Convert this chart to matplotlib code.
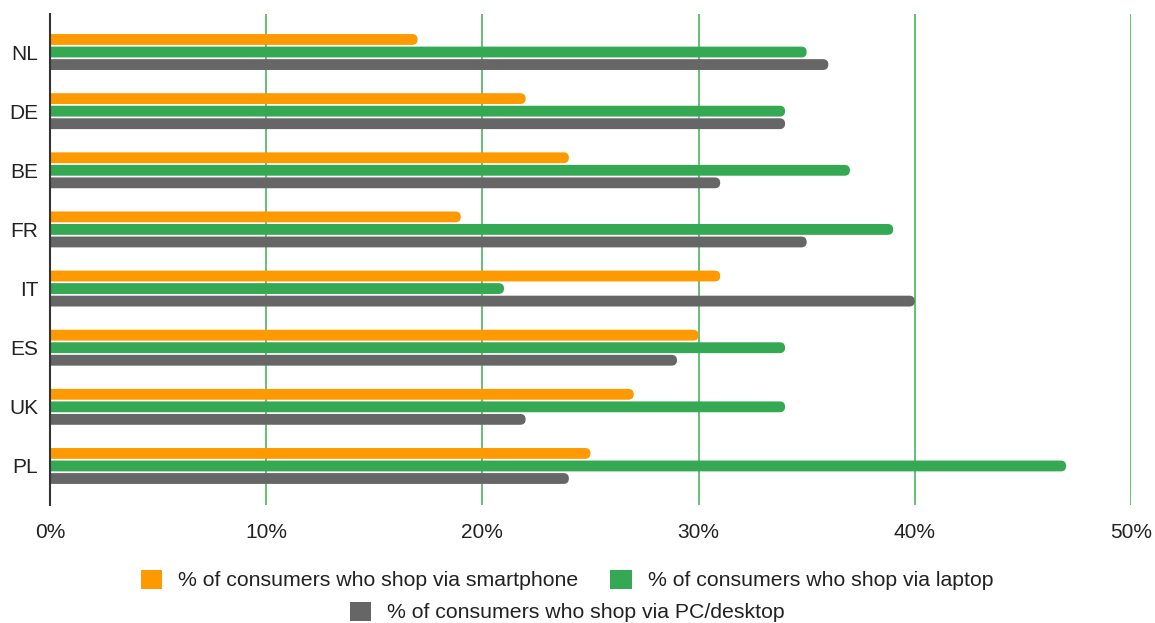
import matplotlib
matplotlib.use("Agg")
import matplotlib.pyplot as plt
from matplotlib.patches import FancyBboxPatch, Patch
from matplotlib.ticker import FuncFormatter

plt.rcParams["font.family"] = ["Liberation Sans", "DejaVu Sans"]

# Share of online shoppers per device, by country (%)
paises = ["NL", "DE", "BE", "FR", "IT", "ES", "UK", "PL"]
smartphone = [17, 22, 24, 19, 31, 30, 27, 25]
laptop = [35, 34, 37, 39, 21, 34, 34, 47]
desktop = [36, 34, 31, 35, 40, 29, 22, 24]

series = [
    ("% of consumers who shop via smartphone", smartphone, "#ff9900"),
    ("% of consumers who shop via laptop", laptop, "#34a853"),
    ("% of consumers who shop via PC/desktop", desktop, "#666666"),
]

W, H = 1155, 623
fig = plt.figure(figsize=(W / 100, H / 100), dpi=100)
left, right, top, bottom = 50, 1131, 14, 505
ax = fig.add_axes([left / W, 1 - bottom / H, (right - left) / W, (bottom - top) / H])

xmax = 50
ymin, ymax = -0.643, 7.66
ax.set_xlim(0, xmax)
ax.set_ylim(ymax, ymin)

# pixel scale of each axis, used to keep the bar ends round
px_x = (right - left) / xmax
px_y = (bottom - top) / (ymax - ymin)
raio_px = 5.4
r = raio_px / px_x
aspecto = px_x / px_y

altura = 0.183
passo = 0.212
for k, (nome, valores, cor) in enumerate(series):
    desloc = (k - 1) * passo
    for i, v in enumerate(valores):
        y = i + desloc
        barra = FancyBboxPatch((-r, y - altura / 2), v + r, altura,
                               boxstyle=f"round,pad=0,rounding_size={r}",
                               mutation_aspect=aspecto, facecolor=cor,
                               edgecolor="none", zorder=2)
        ax.add_patch(barra)

ax.set_yticks(range(len(paises)))
ax.set_yticklabels(paises)
ax.set_xticks(range(0, xmax + 1, 10))
ax.xaxis.set_major_formatter(FuncFormatter(lambda v, p: f"{int(v)}%"))
ax.tick_params(axis="both", length=0, labelsize=15, colors="#222222")
ax.tick_params(axis="x", pad=13)
ax.tick_params(axis="y", pad=8.5)

ax.grid(axis="x", color="#57bb6a", linewidth=1.3, zorder=0)
ax.set_axisbelow(True)
for lado in ["top", "right", "bottom"]:
    ax.spines[lado].set_visible(False)
ax.spines["left"].set_color("#333333")
ax.spines["left"].set_linewidth(1.5)
ax.spines["left"].set_zorder(3)

# legend: two entries on the first row, the third centred below
alcas = [Patch(facecolor=c, edgecolor="none", label=n) for n, _, c in series]
estilo = dict(frameon=False, fontsize=15.3, handlelength=1.0, handleheight=1.0,
              handletextpad=0.75, columnspacing=1.5, labelcolor="#222222")
leg1 = fig.legend(handles=alcas[:2], loc="center", ncol=2,
                  bbox_to_anchor=(567 / W, 1 - 580 / H), **estilo)
fig.legend(handles=alcas[2:], loc="center",
           bbox_to_anchor=(567 / W, 1 - 612 / H), **estilo)

fig.savefig("out.png", dpi=100)
